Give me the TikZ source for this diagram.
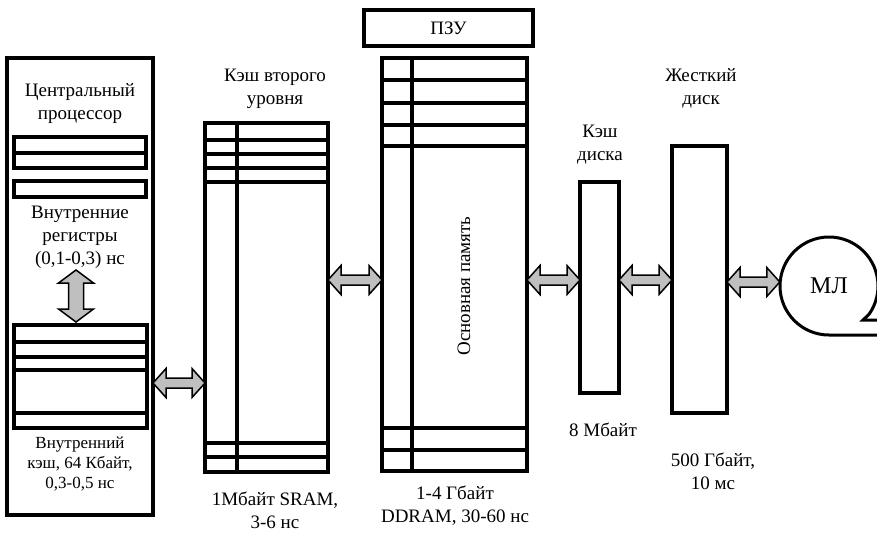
\documentclass[tikz,border=0pt]{standalone}
\usepackage{fontspec}
\IfFontExistsTF{LiberationSerif-Regular.ttf}{\setmainfont{LiberationSerif-Regular.ttf}}{\setmainfont{Liberation Serif}}
\usetikzlibrary{calc}
\newcommand\hdarr[2]{%
  \draw[garrow] let \p1=#1, \p2=#2 in
    (\x1,\y1) -- (\x1+13pt,\y1+14.5pt) -- (\x1+13pt,\y1+5pt) -- (\x2-13pt,\y1+5pt) --
    (\x2-13pt,\y1+14.5pt) -- (\x2,\y1) -- (\x2-13pt,\y1-14.5pt) -- (\x2-13pt,\y1-5pt) --
    (\x1+13pt,\y1-5pt) -- (\x1+13pt,\y1-14.5pt) -- cycle;}
\newcommand\vdarr[2]{%
  \draw[garrow] let \p1=#1, \p2=#2 in
    (\x1,\y1) -- (\x1+17.5pt,\y1-13pt) -- (\x1+7.5pt,\y1-13pt) -- (\x1+7.5pt,\y2+13pt) --
    (\x1+17.5pt,\y2+13pt) -- (\x1,\y2) -- (\x1-17.5pt,\y2+13pt) -- (\x1-7.5pt,\y2+13pt) --
    (\x1-7.5pt,\y1-13pt) -- (\x1-17.5pt,\y1-13pt) -- cycle;}
\begin{document}
\begin{tikzpicture}[x=1pt,y=-1pt,
  box/.style={draw, line width=4pt, rectangle, inner sep=0pt, outer sep=0pt, anchor=north west},
  inner/.style={line width=3.5pt},
  garrow/.style={draw=black, fill=gray!50, line width=1.5pt, line join=miter},
  lbl/.style={align=center, inner sep=0pt, font=\fontsize{19}{23}\selectfont},
  lbls/.style={align=center, inner sep=0pt, font=\fontsize{17}{20}\selectfont}]
\useasboundingbox (0,0) rectangle (877,533);
% CPU
\node[box, minimum width=146, minimum height=457] (cpu) at (7,58) {};
\node[lbl] (cputxt) at (80,103.5) {Центральный\\процессор};
\node[box, minimum width=132, minimum height=31] (reg1) at (14,137) {};
\draw[box] (14,153) -- (146,153);
\node[box, minimum width=132, minimum height=16] (reg2) at (14,181) {};
\node[lbl] (regtxt) at (80,237) {Внутренние\\регистры\\(0,1-0,3) нс};
\node[box, minimum width=133, minimum height=103] (icache) at (14,325) {};
\foreach \yy in {342,357,370,413} \draw[inner] (14,\yy) -- (147,\yy);
\node[lbls] (ictxt) at (80,464) {Внутренний\\кэш, 64 Кбайт,\\0,3-0,5 нс};
\coordinate (va) at (76,270);
\coordinate (vb) at (76,322);
\vdarr{(va)}{(vb)}
% L2
\node[box, minimum width=123, minimum height=349] (l2) at (205,123) {};
\draw[inner] (237,123) -- (237,472);
\foreach \yy in {140,154,168,182,443,457} \draw[inner] (205,\yy) -- (328,\yy);
\node[lbl] (l2title) at (275,88.5) {Кэш второго\\уровня};
\node[lbl] (l2info) at (275,510) {1Мбайт SRAM,\\3-6 нс};
% ROM
\node[box, minimum width=169, minimum height=36, font=\fontsize{19}{23}\selectfont] (rom) at (364,10) {ПЗУ};
% Main memory
\node[box, minimum width=145, minimum height=413] (mem) at (382,58) {};
\draw[inner] (412,58) -- (412,471);
\foreach \yy in {80,103,125,146,428,450} \draw[inner] (382,\yy) -- (527,\yy);
\node[lbl, rotate=90] (memtxt) at (464,286) {Основная память};
\node[lbl] (meminfo) at (455,506) {1-4 Гбайт\\DDRAM, 30-60 нс};
% Disk cache
\node[box, minimum width=39, minimum height=211] (dc) at (580,182) {};
\node[lbl] (dctitle) at (600,145) {Кэш\\диска};
\node[lbl] (dcinfo) at (603,430) {8 Мбайт};
% HDD
\node[box, minimum width=55, minimum height=267] (hdd) at (672,146) {};
\node[lbl] (hddtitle) at (701,88) {Жесткий\\диск};
\node[lbl] (hddinfo) at (713,471) {500 Гбайт,\\10 мс};
% Tape
\node[circle, minimum size=98, inner sep=0pt, font=\fontsize{24}{28}\selectfont] (ml) at (829,286) {МЛ};
\draw[line width=3pt, line join=miter] (880,335) -- (829,335)
   arc[start angle=270, end angle=-35, radius=49pt] -- (863,320) -- (880,320);
% arrows
\hdarr{(cpu.east |- 0,383)}{(l2.west |- 0,383)}
\hdarr{(l2.east |- 0,280)}{(mem.west |- 0,280)}
\hdarr{(mem.east |- 0,280)}{(dc.west |- 0,280)}
\hdarr{(dc.east |- 0,280)}{(hdd.west |- 0,280)}
\hdarr{(hdd.east |- 0,282)}{(ml.west |- 0,282)}
\end{tikzpicture}
\end{document}
